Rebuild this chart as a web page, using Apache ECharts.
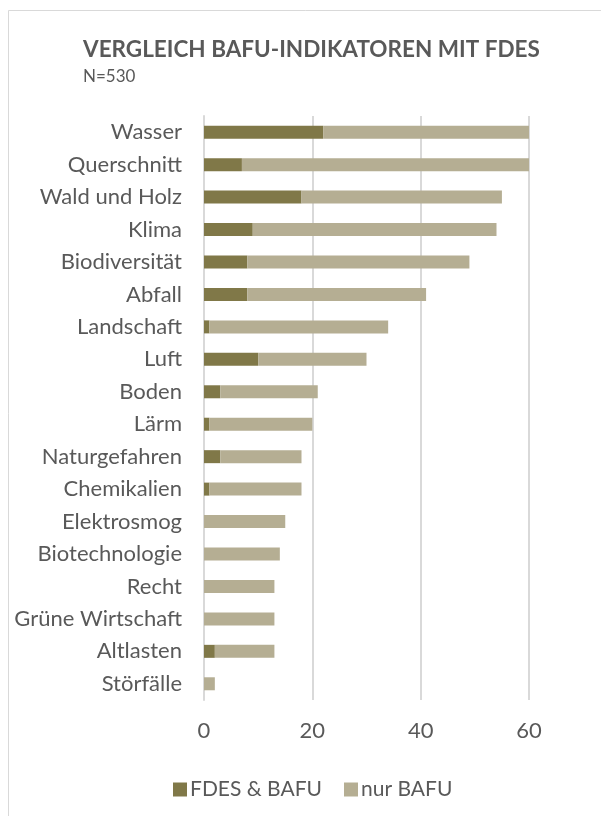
<!DOCTYPE html>
<html>
<head>
<meta charset="utf-8">
<script src="https://cdn.jsdelivr.net/npm/echarts@6/dist/echarts.min.js"></script>
<style>html,body{margin:0;padding:0;background:#fff;}#c{width:601px;height:816px;}</style>
</head>
<body>
<div id="c"></div>
<script>
var categories = ["Wasser","Querschnitt","Wald und Holz","Klima","Biodiversität","Abfall","Landschaft","Luft","Boden","Lärm","Naturgefahren","Chemikalien","Elektrosmog","Biotechnologie","Recht","Grüne Wirtschaft","Altlasten","Störfälle"];
var fdesBafu = [22,7,18,9,8,8,1,10,3,1,3,1,0,0,0,0,2,0];
var nurBafu  = [38,53,37,45,41,33,33,20,18,19,15,17,15,14,13,13,11,2];
var xTicks = [0,20,40,60];
var seriesNames = ["FDES & BAFU","nur BAFU"];

var FONT = "Lato, 'Open Sans', sans-serif";
var chart = echarts.init(document.getElementById('c'), null, {renderer:'canvas'});
chart.setOption({
  animation:false,
  backgroundColor:'#ffffff',
  graphic:[{type:'rect',shape:{x:8.5,y:10.5,width:620,height:840},style:{fill:'none',stroke:'#d9d9d9',lineWidth:1},silent:true}],
  title:{text:'VERGLEICH BAFU-INDIKATOREN MIT FDES',subtext:'N=530',left:78,top:33,itemGap:7,
    textStyle:{fontFamily:FONT,fontSize:22.5,fontWeight:'bold',color:'#595959'},
    subtextStyle:{fontFamily:FONT,fontSize:17,color:'#595959'}},
  legend:{data:seriesNames,left:168,top:774,itemWidth:14,itemHeight:14,itemGap:22,icon:'rect',
    textStyle:{fontFamily:FONT,fontSize:21,color:'#595959',padding:[0,0,0,-2]}},
  grid:{left:204,right:72,top:116,bottom:116,containLabel:false},
  xAxis:{type:'value',min:xTicks[0],max:xTicks[xTicks.length-1],interval:20,
    axisLine:{show:false},axisTick:{show:false},
    axisLabel:{fontFamily:FONT,fontSize:22,color:'#595959',margin:20},
    splitLine:{lineStyle:{color:'#d9d9d9',width:2}}},
  yAxis:{type:'category',data:categories,inverse:true,
    axisLine:{lineStyle:{color:'#d9d9d9',width:2}},axisTick:{show:false},
    axisLabel:{fontFamily:FONT,fontSize:22,color:'#595959',margin:22}},
  series:[
    {name:seriesNames[0],type:'bar',stack:'a',data:fdesBafu,barWidth:13,itemStyle:{color:'#807848'}},
    {name:seriesNames[1],type:'bar',stack:'a',data:nurBafu,barWidth:13,itemStyle:{color:'#b5ae93'}}
  ]
});
</script>
</body>
</html>
